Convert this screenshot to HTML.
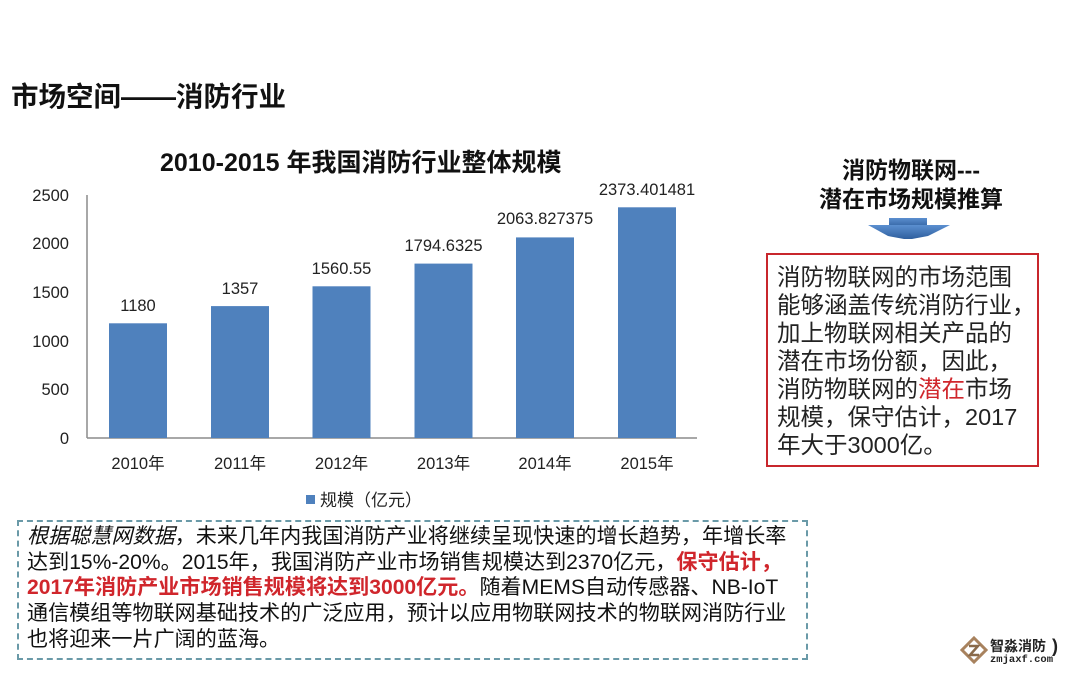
<!DOCTYPE html>
<html><head><meta charset="utf-8">
<style>
html,body{margin:0;padding:0;background:#fff;}
body{width:1080px;height:675px;position:relative;overflow:hidden;font-family:"Liberation Sans","Noto Sans CJK SC",sans-serif;}
.abs{position:absolute;white-space:nowrap;}
.t1{left:11px;top:79px;font-size:27.5px;font-weight:bold;color:#111;font-family:"Liberation Sans","Noto Sans CJK SC",sans-serif;line-height:36px;}
.ct{left:160px;top:148px;font-size:25px;font-weight:bold;color:#111;line-height:30px;}
.rh{left:770px;width:282px;text-align:center;font-size:23px;font-weight:bold;color:#111;line-height:29px;}
.rbox{left:766px;top:253px;width:273px;height:214px;border:2px solid #c8262c;box-sizing:border-box;}
.rtext{left:777px;top:263px;font-size:23.5px;line-height:28px;color:#222;white-space:nowrap;}
.bbox{left:17px;top:520px;width:791px;height:140px;border:2px dashed #6a9aa8;box-sizing:border-box;}
.bl{left:27px;font-size:21.1px;line-height:26px;color:#111;}
.red{color:#d0262c;font-weight:bold;}
</style></head><body>
<div class="abs t1">市场空间——消防行业</div>
<div class="abs ct">2010-2015 年我国消防行业整体规模</div>

<svg class="abs" style="left:0;top:0" width="720" height="520" xmlns="http://www.w3.org/2000/svg">
  <g font-family="Liberation Sans, Noto Sans CJK SC, sans-serif" fill="#222">
    <line x1="87" y1="195" x2="87" y2="438" stroke="#8c8c8c" stroke-width="1.5"/>
    <line x1="87" y1="438" x2="697" y2="438" stroke="#8c8c8c" stroke-width="1.5"/>
    <g font-size="16.5" text-anchor="end">
      <text x="69" y="201">2500</text>
      <text x="69" y="249">2000</text>
      <text x="69" y="298">1500</text>
      <text x="69" y="347">1000</text>
      <text x="69" y="395">500</text>
      <text x="69" y="444">0</text>
    </g>
    <g fill="#4f81bd">
      <rect x="109" y="323.3" width="58" height="114.7"/>
      <rect x="211" y="306.1" width="58" height="131.9"/>
      <rect x="312.5" y="286.3" width="58" height="151.7"/>
      <rect x="414.5" y="263.6" width="58" height="174.4"/>
      <rect x="516" y="237.4" width="58" height="200.6"/>
      <rect x="618" y="207.3" width="58" height="230.7"/>
    </g>
    <g font-size="16.5" text-anchor="middle">
      <text x="138" y="311">1180</text>
      <text x="240" y="294">1357</text>
      <text x="341.5" y="274">1560.55</text>
      <text x="443.5" y="251">1794.6325</text>
      <text x="545" y="224">2063.827375</text>
      <text x="647" y="195">2373.401481</text>
    </g>
    <g font-size="16.5" text-anchor="middle">
      <text x="138" y="469">2010年</text>
      <text x="240" y="469">2011年</text>
      <text x="341.5" y="469">2012年</text>
      <text x="443.5" y="469">2013年</text>
      <text x="545" y="469">2014年</text>
      <text x="647" y="469">2015年</text>
    </g>
    <rect x="306" y="495" width="9" height="9" fill="#4f81bd"/>
    <text x="320" y="506" font-size="17">规模（亿元）</text>
  </g>
</svg>

<div class="abs rh" style="top:156px;">消防物联网---</div>
<div class="abs rh" style="top:185px;">潜在市场规模推算</div>

<svg class="abs" style="left:860px;top:212px" width="100" height="32" xmlns="http://www.w3.org/2000/svg">
  <defs><linearGradient id="g" x1="0" y1="0" x2="0" y2="1"><stop offset="0" stop-color="#5b8fd0"/><stop offset="1" stop-color="#2f5f9e"/></linearGradient></defs>
  <rect x="29" y="6" width="38" height="10" fill="url(#g)"/>
  <polygon points="8,13 90,13 68,24 52,27 44,27 28,24" fill="url(#g)"/>
</svg>

<div class="abs rbox"></div>
<div class="abs rtext">消防物联网的市场范围<br>能够涵盖传统消防行业，<br>加上物联网相关产品的<br>潜在市场份额，因此，<br>消防物联网的<span style="color:#d0262c">潜在</span>市场<br>规模，保守估计，2017<br>年大于3000亿。</div>

<div class="abs bbox"></div>
<div class="abs bl" style="top:524px;"><i>根据聪慧网数据</i>，未来几年内我国消防产业将继续呈现快速的增长趋势，年增长率</div>
<div class="abs bl" style="top:550px;">达到15%-20%。2015年，我国消防产业市场销售规模达到2370亿元，<span class="red">保守估计，</span></div>
<div class="abs bl" style="top:575px;"><span class="red">2017年消防产业市场销售规模将达到3000亿元。</span>随着MEMS自动传感器、NB-IoT</div>
<div class="abs bl" style="top:601px;">通信模组等物联网基础技术的广泛应用，预计以应用物联网技术的物联网消防行业</div>
<div class="abs bl" style="top:627px;">也将迎来一片广阔的蓝海。</div>

<svg class="abs" style="left:960px;top:636px" width="30" height="30" xmlns="http://www.w3.org/2000/svg">
  <polygon points="14,2 26,14 14,26 2,14" fill="none" stroke="#a8825e" stroke-width="3"/>
  <polyline points="9,10 18,10 10,19 19,19" fill="none" stroke="#8a6a4a" stroke-width="2.5"/>
</svg>
<div class="abs" style="left:990px;top:638px;font-size:14px;font-weight:bold;color:#222;line-height:16px;">智淼消防</div>
<div class="abs" style="left:990px;top:654px;font-size:10.5px;font-weight:bold;color:#222;font-family:'Liberation Mono',monospace;line-height:12px;">zmjaxf.com</div>
<div class="abs" style="left:1052px;top:636px;font-size:18px;font-weight:bold;color:#222;line-height:20px;">)</div>
</body></html>
